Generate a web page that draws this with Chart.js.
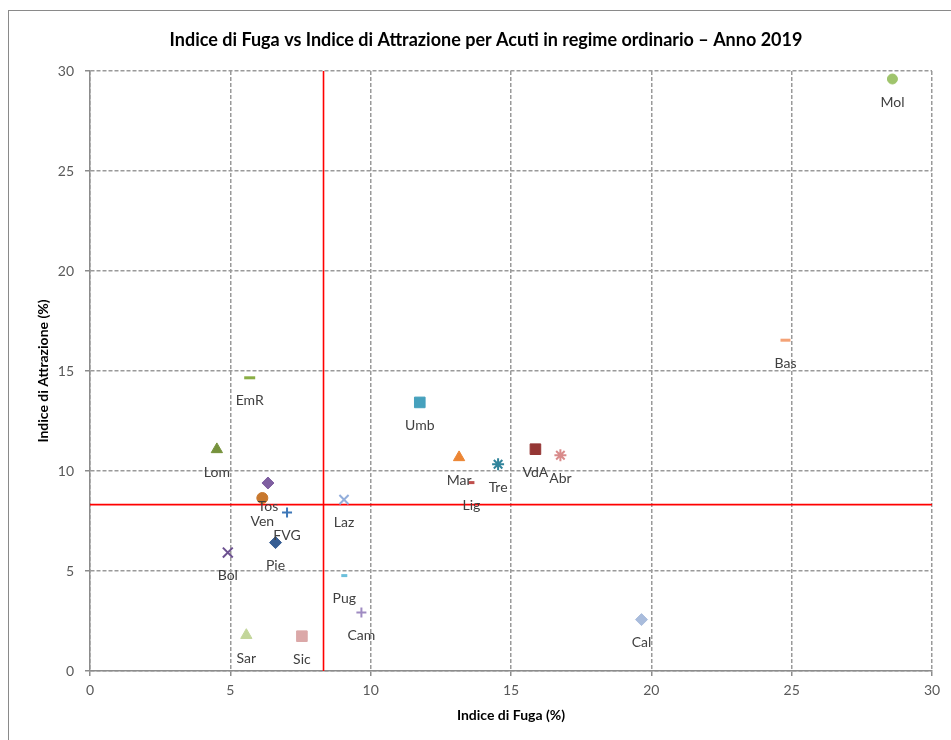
<!DOCTYPE html>
<html>
<head>
<meta charset="utf-8">
<script src="https://cdn.jsdelivr.net/npm/chart.js@4.4.1/dist/chart.umd.min.js"></script>
<style>
  html, body { margin: 0; padding: 0; background: #fff; overflow: hidden; }
  .cornice { position: absolute; left: 8px; top: 10px; width: 1000px; height: 800px; border: 1.5px solid #8a8a8a; }
  #grafico { position: absolute; left: 0; top: 0; }
</style>
</head>
<body>
<div class="cornice"></div>
<canvas id="grafico" width="951" height="740"></canvas>
<script>
// valori (percentuali)
const regioni = ['Mol', 'Bas', 'EmR', 'Umb', 'Lom', 'Mar', 'VdA', 'Abr', 'Tre', 'Lig', 'Tos',
                 'Ven', 'Laz', 'FVG', 'Pie', 'Bol', 'Pug', 'Cam', 'Sar', 'Sic', 'Cal'];
const indiceFuga = [28.59, 24.78, 5.69, 11.75, 4.52, 13.15, 15.87, 16.76, 14.54, 13.59, 6.34,
                    6.14, 9.05, 7.02, 6.61, 4.91, 9.06, 9.67, 5.57, 7.55, 19.65];
const indiceAttrazione = [29.60, 16.54, 14.66, 13.43, 11.08, 10.68, 11.09, 10.79, 10.34, 9.42, 9.40,
                          8.65, 8.57, 7.92, 6.42, 5.92, 4.77, 2.92, 1.79, 1.74, 2.57];
const mediaFuga = 8.32;
const mediaAttrazione = 8.32;
const tickValori = [0, 5, 10, 15, 20, 25, 30];

// stile marker tipo Excel, uno per regione
const stili = {
  Mol: ['circle', '#9fc46c', 5],
  Bas: ['line', '#f4a276', 5],
  EmR: ['line', '#8aae45', 5.5],
  Umb: ['rect', '#46a1bd', 7.5],
  Lom: ['triangle', '#76923c', 6.5],
  Mar: ['triangle', '#ec8533', 6.5],
  VdA: ['rect', '#953735', 7.5],
  Abr: ['star', '#d98b8b', 6],
  Tre: ['star', '#31849b', 6],
  Lig: ['line', '#c0504d', 3],
  Tos: ['rectRot', '#7f5fa1', 6],
  Ven: ['circle', '#c8782e', 5.5],
  Laz: ['crossRot', '#93aedb', 6.5],
  FVG: ['cross', '#3d77b8', 5],
  Pie: ['rectRot', '#375e94', 6],
  Bol: ['crossRot', '#6c5090', 7],
  Pug: ['line', '#6cc0dc', 3],
  Cam: ['cross', '#9f8bc2', 5],
  Sar: ['triangle', '#c3d69b', 6.5],
  Sic: ['rect', '#dba8a8', 7.5],
  Cal: ['rectRot', '#a9bcdc', 6]
};

const puntiRegioni = regioni.map((r, i) => {
  const [forma, colore, raggio] = stili[r];
  const linea = forma === 'line' || forma.startsWith('cross') || forma === 'star';
  return {
    label: r,
    data: [{ x: indiceFuga[i], y: indiceAttrazione[i] }],
    pointStyle: forma,
    pointRadius: raggio,
    pointBackgroundColor: colore,
    pointBorderColor: colore,
    pointBorderWidth: forma === 'line' ? 3 : (linea ? 2 : 1),
    order: 0
  };
});

const lineeMedie = [
  {
    label: 'mediaFuga',
    data: [{ x: mediaFuga, y: 0 }, { x: mediaFuga, y: 30 }],
    showLine: true, borderColor: '#ff0000', borderWidth: 1.6, pointRadius: 0, order: 1
  },
  {
    label: 'mediaAttrazione',
    data: [{ x: 0, y: mediaAttrazione }, { x: 30, y: mediaAttrazione }],
    showLine: true, borderColor: '#ff0000', borderWidth: 1.6, pointRadius: 0, order: 1
  }
];

// etichette sotto i punti + titoli
const etichette = {
  id: 'etichette',
  afterDatasetsDraw(chart) {
    const ctx = chart.ctx;
    ctx.save();
    ctx.font = '14px Lato';
    ctx.fillStyle = '#404040';
    ctx.textAlign = 'center';
    ctx.textBaseline = 'middle';
    regioni.forEach((r, i) => {
      const p = chart.getDatasetMeta(i).data[0];
      ctx.fillText(r, p.x, p.y + 23);
    });
    ctx.restore();
  },
  afterDraw(chart) {
    const ctx = chart.ctx;
    const area = chart.chartArea;
    ctx.save();
    ctx.fillStyle = '#000';
    ctx.textAlign = 'center';
    ctx.textBaseline = 'middle';
    ctx.font = 'bold 18px Lato';
    ctx.fillText('Indice di Fuga vs Indice di Attrazione per Acuti in regime ordinario \u2013 Anno 2019', 486, 40);
    ctx.font = 'bold 14px Lato';
    ctx.fillText('Indice di Fuga (%)', (area.left + area.right) / 2, 715);
    ctx.translate(43, (area.top + area.bottom) / 2);
    ctx.rotate(-Math.PI / 2);
    ctx.fillText('Indice di Attrazione (%)', 0, 0);
    ctx.restore();
  }
};

const assi = (extra) => Object.assign({
  type: 'linear',
  min: 0,
  max: 30,
  afterBuildTicks: (scale) => { scale.ticks = tickValori.map(v => ({ value: v })); },
  grid: { color: '#9a9a9a', lineWidth: 1.5, tickLength: 5, tickColor: '#8c8c8c', tickWidth: 1.5 },
  border: { color: '#8c8c8c', width: 1.5, dash: [4, 2] },
  ticks: { color: '#595959', font: { family: 'Lato', size: 14 }, padding: 11 }
}, extra);

new Chart(document.getElementById('grafico'), {
  type: 'scatter',
  data: { datasets: [...puntiRegioni, ...lineeMedie] },
  options: {
    responsive: false,
    animation: false,
    layout: { padding: { top: 71, right: 19, left: 0, bottom: 0 } },
    plugins: { legend: { display: false }, tooltip: { enabled: false } },
    scales: {
      x: assi({ position: 'bottom', afterFit: (s) => { s.height = 69; }, ticks: { color: '#595959', font: { family: 'Lato', size: 14 }, padding: 6 } }),
      y: assi({ position: 'left', afterFit: (s) => { s.width = 90; } })
    }
  },
  plugins: [etichette]
});
</script>
</body>
</html>
